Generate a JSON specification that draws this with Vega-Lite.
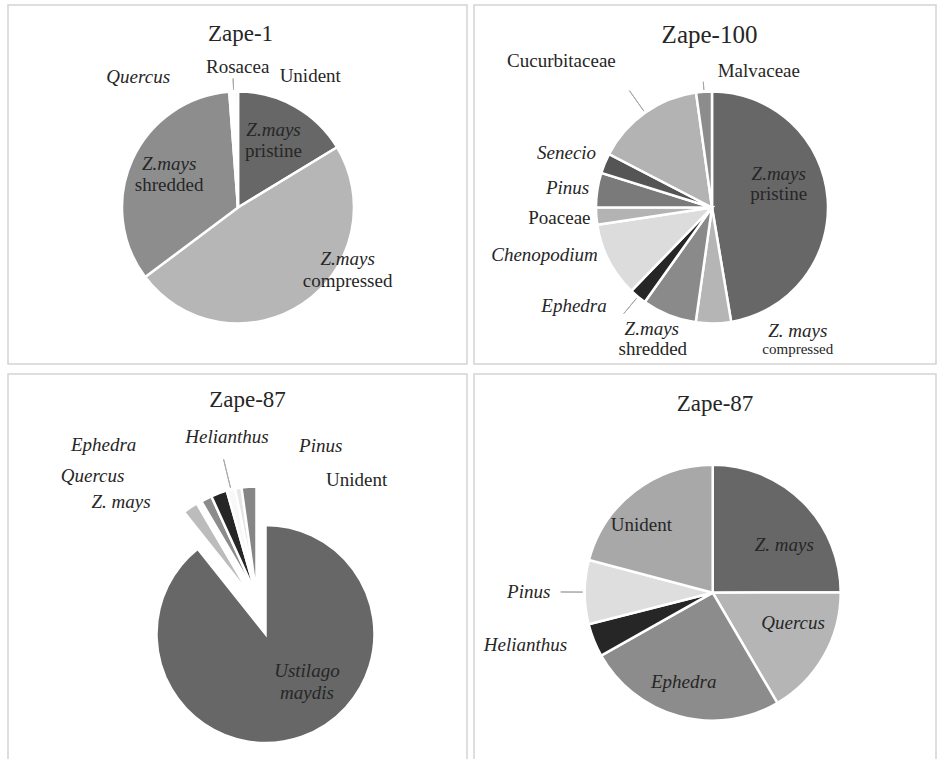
{
"$schema": "https://vega.github.io/schema/vega-lite/v6.json",
"padding": {"left": 7, "top": 4, "right": 0, "bottom": 0},
"background": "white",
"data": {"values": [
{"sample": "Zape-1", "basis": "all types", "order": 1, "taxon": "Z.mays", "state": "pristine", "slice": "Z.mays pristine", "value": 16.3},
{"sample": "Zape-1", "basis": "all types", "order": 2, "taxon": "Z.mays", "state": "compressed", "slice": "Z.mays compressed", "value": 48.4},
{"sample": "Zape-1", "basis": "all types", "order": 3, "taxon": "Z.mays", "state": "shredded", "slice": "Z.mays shredded", "value": 34.0},
{"sample": "Zape-1", "basis": "all types", "order": 4, "taxon": "Quercus", "state": "", "slice": "Quercus", "value": 0.4},
{"sample": "Zape-1", "basis": "all types", "order": 5, "taxon": "Rosacea", "state": "", "slice": "Rosacea", "value": 0.4},
{"sample": "Zape-1", "basis": "all types", "order": 6, "taxon": "Unident", "state": "", "slice": "Unident", "value": 0.4},
{"sample": "Zape-100", "basis": "all types", "order": 1, "taxon": "Z.mays", "state": "pristine", "slice": "Z.mays pristine", "value": 47.4},
{"sample": "Zape-100", "basis": "all types", "order": 2, "taxon": "Z. mays", "state": "compressed", "slice": "Z. mays compressed", "value": 4.9},
{"sample": "Zape-100", "basis": "all types", "order": 3, "taxon": "Z.mays", "state": "shredded", "slice": "Z.mays shredded", "value": 7.6},
{"sample": "Zape-100", "basis": "all types", "order": 4, "taxon": "Ephedra", "state": "", "slice": "Ephedra", "value": 2.4},
{"sample": "Zape-100", "basis": "all types", "order": 5, "taxon": "Chenopodium", "state": "", "slice": "Chenopodium", "value": 10.4},
{"sample": "Zape-100", "basis": "all types", "order": 6, "taxon": "Poaceae", "state": "", "slice": "Poaceae", "value": 2.4},
{"sample": "Zape-100", "basis": "all types", "order": 7, "taxon": "Pinus", "state": "", "slice": "Pinus", "value": 4.8},
{"sample": "Zape-100", "basis": "all types", "order": 8, "taxon": "Senecio", "state": "", "slice": "Senecio", "value": 2.8},
{"sample": "Zape-100", "basis": "all types", "order": 9, "taxon": "Cucurbitaceae", "state": "", "slice": "Cucurbitaceae", "value": 15.2},
{"sample": "Zape-100", "basis": "all types", "order": 10, "taxon": "Malvaceae", "state": "", "slice": "Malvaceae", "value": 2.2},
{"sample": "Zape-87", "basis": "with Ustilago", "order": 1, "taxon": "Ustilago maydis", "state": "", "slice": "Ustilago maydis", "value": 89.4},
{"sample": "Zape-87", "basis": "with Ustilago", "order": 2, "taxon": "Z. mays", "state": "", "slice": "Z. mays", "value": 2.25},
{"sample": "Zape-87", "basis": "with Ustilago", "order": 3, "taxon": "Quercus", "state": "", "slice": "Quercus", "value": 1.65},
{"sample": "Zape-87", "basis": "with Ustilago", "order": 4, "taxon": "Ephedra", "state": "", "slice": "Ephedra", "value": 2.4},
{"sample": "Zape-87", "basis": "with Ustilago", "order": 5, "taxon": "Helianthus", "state": "", "slice": "Helianthus", "value": 1.25},
{"sample": "Zape-87", "basis": "with Ustilago", "order": 6, "taxon": "Pinus", "state": "", "slice": "Pinus", "value": 0.95},
{"sample": "Zape-87", "basis": "with Ustilago", "order": 7, "taxon": "Unident", "state": "", "slice": "Unident", "value": 2.2},
{"sample": "Zape-87", "basis": "pollen only", "order": 1, "taxon": "Z. mays", "state": "", "slice": "Z. mays", "value": 25.0},
{"sample": "Zape-87", "basis": "pollen only", "order": 2, "taxon": "Quercus", "state": "", "slice": "Quercus", "value": 16.6},
{"sample": "Zape-87", "basis": "pollen only", "order": 3, "taxon": "Ephedra", "state": "", "slice": "Ephedra", "value": 25.3},
{"sample": "Zape-87", "basis": "pollen only", "order": 4, "taxon": "Helianthus", "state": "", "slice": "Helianthus", "value": 4.2},
{"sample": "Zape-87", "basis": "pollen only", "order": 5, "taxon": "Pinus", "state": "", "slice": "Pinus", "value": 8.1},
{"sample": "Zape-87", "basis": "pollen only", "order": 6, "taxon": "Unident", "state": "", "slice": "Unident", "value": 20.9}
]},
"spacing": 8,
"resolve": {"scale": {"theta": "independent", "color": "independent"}},
"vconcat": [
{"hconcat": [
{
"width": 459, "height": 359,
"view": {"stroke": "#d4d4d4", "strokeWidth": 1.5},
"title": {"text": "Zape-1", "frame": "group", "anchor": "middle", "orient": "top", "offset": -59, "baseline": "alphabetic", "fontSize": 23, "font": "Liberation Serif", "fontWeight": "normal", "color": "#262626", "dx": 3},
"transform": [{"filter": "datum.sample === 'Zape-1'"}],
"encoding": {
"theta": {"field": "value", "type": "quantitative", "stack": true},
"order": {"field": "order", "type": "quantitative"}
},
"layer": [
{"mark": {"type": "arc", "outerRadius": 116, "xOffset": 0.5, "yOffset": 23},
 "encoding": {"color": {"field": "slice", "type": "nominal", "legend": null, "scale": {"domain": ["Z.mays pristine", "Z.mays compressed", "Z.mays shredded", "Quercus", "Rosacea", "Unident"], "range": ["#676767", "#b6b6b6", "#8d8d8d", "#ededed", "#f7f7f7", "#e4e4e4"]}}}},
{"mark": {"type": "arc", "innerRadius": 118, "outerRadius": 129, "padAngle": 3, "fill": "transparent", "stroke": "#a8a8a8", "strokeWidth": 1, "xOffset": 0.5, "yOffset": 23},
 "encoding": {"opacity": {"condition": {"test": "datum.slice === 'Rosacea'", "value": 1}, "value": 0}}},
{"mark": {"type": "text", "radius": 74.5, "xOffset": 0.5, "yOffset": 23, "dx": -1, "dy": -13, "fontStyle": "italic"},
 "encoding": {"text": {"condition": {"test": "datum.slice === 'Z.mays pristine' || datum.slice === 'Z.mays shredded'", "field": "taxon"}, "value": ""},
  "size": {"condition": {"test": "datum.slice === 'Z.mays pristine' || datum.slice === 'Z.mays shredded'", "value": 19}, "value": 0}}},
{"mark": {"type": "text", "radius": 74.5, "xOffset": 0.5, "yOffset": 23, "dx": -1, "dy": 8.5},
 "encoding": {"text": {"condition": {"test": "datum.slice === 'Z.mays pristine' || datum.slice === 'Z.mays shredded'", "field": "state"}, "value": ""},
  "size": {"condition": {"test": "datum.slice === 'Z.mays pristine' || datum.slice === 'Z.mays shredded'", "value": 19}, "value": 0}}},
{"mark": {"type": "text", "radius": 110, "xOffset": 0.5, "yOffset": 23, "dx": 48, "dy": -40, "fontStyle": "italic"},
 "encoding": {"text": {"condition": {"test": "datum.slice === 'Z.mays compressed'", "field": "taxon"}, "value": ""},
  "size": {"condition": {"test": "datum.slice === 'Z.mays compressed'", "value": 19}, "value": 0}}},
{"mark": {"type": "text", "radius": 110, "xOffset": 0.5, "yOffset": 23, "dx": 48, "dy": -18},
 "encoding": {"text": {"condition": {"test": "datum.slice === 'Z.mays compressed'", "field": "state"}, "value": ""},
  "size": {"condition": {"test": "datum.slice === 'Z.mays compressed'", "value": 19}, "value": 0}}},
{"mark": {"type": "text", "radius": 140, "xOffset": 0.5, "yOffset": 23, "dx": -91, "dy": 9, "fontStyle": "italic"},
 "encoding": {"text": {"condition": {"test": "datum.slice === 'Quercus'", "field": "taxon"}, "value": ""},
  "size": {"condition": {"test": "datum.slice === 'Quercus'", "value": 19}, "value": 0}}},
{"mark": {"type": "text", "radius": 141, "xOffset": 0.5, "yOffset": 23, "dx": 5, "dy": 0},
 "encoding": {"text": {"condition": {"test": "datum.slice === 'Rosacea'", "field": "taxon"}, "value": ""},
  "size": {"condition": {"test": "datum.slice === 'Rosacea'", "value": 19}, "value": 0}}},
{"mark": {"type": "text", "radius": 140, "xOffset": 0.5, "yOffset": 23, "dx": 74, "dy": 8},
 "encoding": {"text": {"condition": {"test": "datum.slice === 'Unident'", "field": "taxon"}, "value": ""},
  "size": {"condition": {"test": "datum.slice === 'Unident'", "value": 19}, "value": 0}}}
]
},
{
"width": 462, "height": 359,
"view": {"stroke": "#d4d4d4", "strokeWidth": 1.5},
"title": {"text": "Zape-100", "frame": "group", "anchor": "middle", "orient": "top", "offset": -62.7, "baseline": "alphabetic", "fontSize": 25, "font": "Liberation Serif", "fontWeight": "normal", "color": "#262626", "dx": 4.5},
"transform": [{"filter": "datum.sample === 'Zape-100'"}],
"encoding": {
"theta": {"field": "value", "type": "quantitative", "stack": true},
"order": {"field": "order", "type": "quantitative"}
},
"layer": [
{"mark": {"type": "arc", "outerRadius": 116, "xOffset": 7, "yOffset": 23},
 "encoding": {"color": {"field": "slice", "type": "nominal", "legend": null, "scale": {"domain": ["Z.mays pristine", "Z. mays compressed", "Z.mays shredded", "Ephedra", "Chenopodium", "Poaceae", "Pinus", "Senecio", "Cucurbitaceae", "Malvaceae"], "range": ["#676767", "#b5b5b5", "#8a8a8a", "#262626", "#dcdcdc", "#b3b3b3", "#7a7a7a", "#555555", "#b3b3b3", "#8c8c8c"]}}}},
{"mark": {"type": "arc", "innerRadius": 118, "outerRadius": 126, "padAngle": 3, "fill": "transparent", "stroke": "#a8a8a8", "strokeWidth": 1, "xOffset": 7, "yOffset": 23},
 "encoding": {"opacity": {"condition": {"test": "datum.slice === 'Malvaceae'", "value": 1}, "value": 0}}},
{"mark": {"type": "arc", "innerRadius": 118, "outerRadius": 143, "padAngle": 3, "fill": "transparent", "stroke": "#a8a8a8", "strokeWidth": 1, "xOffset": 7, "yOffset": 23},
 "encoding": {"opacity": {"condition": {"test": "datum.slice === 'Cucurbitaceae'", "value": 1}, "value": 0}}},
{"mark": {"type": "arc", "innerRadius": 118, "outerRadius": 138, "padAngle": 3, "fill": "transparent", "stroke": "#a8a8a8", "strokeWidth": 1, "xOffset": 7, "yOffset": 23},
 "encoding": {"opacity": {"condition": {"test": "datum.slice === 'Ephedra'", "value": 1}, "value": 0}}},
{"mark": {"type": "text", "radius": 70, "xOffset": 7, "yOffset": 23, "dx": -3, "dy": -28, "fontStyle": "italic"},
 "encoding": {"text": {"condition": {"test": "datum.slice === 'Z.mays pristine'", "field": "taxon"}, "value": ""},
  "size": {"condition": {"test": "datum.slice === 'Z.mays pristine'", "value": 19}, "value": 0}}},
{"mark": {"type": "text", "radius": 70, "xOffset": 7, "yOffset": 23, "dx": -3, "dy": -8},
 "encoding": {"text": {"condition": {"test": "datum.slice === 'Z.mays pristine'", "field": "state"}, "value": ""},
  "size": {"condition": {"test": "datum.slice === 'Z.mays pristine'", "value": 19}, "value": 0}}},
{"mark": {"type": "text", "radius": 140, "xOffset": 7, "yOffset": 23, "dx": 84, "dy": -16, "fontStyle": "italic"},
 "encoding": {"text": {"condition": {"test": "datum.slice === 'Z. mays compressed'", "field": "taxon"}, "value": ""},
  "size": {"condition": {"test": "datum.slice === 'Z. mays compressed'", "value": 19}, "value": 0}}},
{"mark": {"type": "text", "radius": 140, "xOffset": 7, "yOffset": 23, "dx": 84, "dy": 2},
 "encoding": {"text": {"condition": {"test": "datum.slice === 'Z. mays compressed'", "field": "state"}, "value": ""},
  "size": {"condition": {"test": "datum.slice === 'Z. mays compressed'", "value": 15}, "value": 0}}},
{"mark": {"type": "text", "radius": 130, "xOffset": 7, "yOffset": 23, "dx": -12, "dy": 0.5, "fontStyle": "italic"},
 "encoding": {"text": {"condition": {"test": "datum.slice === 'Z.mays shredded'", "field": "taxon"}, "value": ""},
  "size": {"condition": {"test": "datum.slice === 'Z.mays shredded'", "value": 19}, "value": 0}}},
{"mark": {"type": "text", "radius": 130, "xOffset": 7, "yOffset": 23, "dx": -11, "dy": 21},
 "encoding": {"text": {"condition": {"test": "datum.slice === 'Z.mays shredded'", "field": "state"}, "value": ""},
  "size": {"condition": {"test": "datum.slice === 'Z.mays shredded'", "value": 19}, "value": 0}}},
{"mark": {"type": "text", "radius": 140, "xOffset": 7, "yOffset": 23, "dx": -48.5, "dy": -9, "fontStyle": "italic"},
 "encoding": {"text": {"condition": {"test": "datum.slice === 'Ephedra'", "field": "taxon"}, "value": ""},
  "size": {"condition": {"test": "datum.slice === 'Ephedra'", "value": 19}, "value": 0}}},
{"mark": {"type": "text", "radius": 140, "xOffset": 7, "yOffset": 23, "dx": -43, "dy": -17, "fontStyle": "italic"},
 "encoding": {"text": {"condition": {"test": "datum.slice === 'Chenopodium'", "field": "taxon"}, "value": ""},
  "size": {"condition": {"test": "datum.slice === 'Chenopodium'", "value": 19}, "value": 0}}},
{"mark": {"type": "text", "radius": 140, "xOffset": 7, "yOffset": 23, "dx": -13, "dy": 0},
 "encoding": {"text": {"condition": {"test": "datum.slice === 'Poaceae'", "field": "taxon"}, "value": ""},
  "size": {"condition": {"test": "datum.slice === 'Poaceae'", "value": 19}, "value": 0}}},
{"mark": {"type": "text", "radius": 140, "xOffset": 7, "yOffset": 23, "dx": -6, "dy": 1.5, "fontStyle": "italic"},
 "encoding": {"text": {"condition": {"test": "datum.slice === 'Pinus'", "field": "taxon"}, "value": ""},
  "size": {"condition": {"test": "datum.slice === 'Pinus'", "value": 19}, "value": 0}}},
{"mark": {"type": "text", "radius": 140, "xOffset": 7, "yOffset": 23, "dx": -16, "dy": -1, "fontStyle": "italic"},
 "encoding": {"text": {"condition": {"test": "datum.slice === 'Senecio'", "field": "taxon"}, "value": ""},
  "size": {"condition": {"test": "datum.slice === 'Senecio'", "value": 19}, "value": 0}}},
{"mark": {"type": "text", "radius": 150, "xOffset": 7, "yOffset": 23, "dx": -64, "dy": -24},
 "encoding": {"text": {"condition": {"test": "datum.slice === 'Cucurbitaceae'", "field": "taxon"}, "value": ""},
  "size": {"condition": {"test": "datum.slice === 'Cucurbitaceae'", "value": 19}, "value": 0}}},
{"mark": {"type": "text", "radius": 140, "xOffset": 7, "yOffset": 23, "dx": 56.5, "dy": 2.7},
 "encoding": {"text": {"condition": {"test": "datum.slice === 'Malvaceae'", "field": "taxon"}, "value": ""},
  "size": {"condition": {"test": "datum.slice === 'Malvaceae'", "value": 19}, "value": 0}}}
]
}
], "spacing": 5, "resolve": {"scale": {"theta": "independent", "color": "independent"}}},
{"hconcat": [
{
"width": 459, "height": 386,
"view": {"stroke": "#d4d4d4", "strokeWidth": 1.5},
"title": {"text": "Zape-87", "frame": "group", "anchor": "middle", "orient": "top", "offset": -56.3, "baseline": "alphabetic", "fontSize": 23, "font": "Liberation Serif", "fontWeight": "normal", "color": "#262626", "dx": 10},
"transform": [{"filter": "datum.sample === 'Zape-87' && datum.basis === 'with Ustilago'"}],
"encoding": {
"theta": {"field": "value", "type": "quantitative", "stack": true},
"order": {"field": "order", "type": "quantitative"}
},
"layer": [
{"mark": {"type": "arc", "outerRadius": 109, "xOffset": 28, "yOffset": 67},
 "encoding": {"color": {"field": "slice", "type": "nominal", "legend": null, "scale": {"domain": ["Ustilago maydis", "Z. mays", "Quercus", "Ephedra", "Helianthus", "Pinus", "Unident"], "range": ["#676767", "#bcbcbc", "#8c8c8c", "#262626", "#f8f8f8", "#e6e6e6", "#868686"]}},
  "opacity": {"condition": {"test": "datum.slice === 'Ustilago maydis'", "value": 1}, "value": 0}}},
{"mark": {"type": "arc", "outerRadius": 109, "xOffset": 19, "yOffset": 28.5, "strokeWidth": 2.5},
 "encoding": {"color": {"field": "slice", "type": "nominal", "legend": null},
  "opacity": {"condition": {"test": "datum.slice === 'Ustilago maydis' || datum.slice === 'Z. mays'", "value": 0}, "value": 1}}},
{"mark": {"type": "arc", "outerRadius": 109, "xOffset": 14.3, "yOffset": 30.4, "strokeWidth": 2.5},
 "encoding": {"color": {"field": "slice", "type": "nominal", "legend": null},
  "opacity": {"condition": {"test": "datum.slice === 'Z. mays'", "value": 1}, "value": 0}}},
{"mark": {"type": "arc", "innerRadius": 111, "outerRadius": 140, "padAngle": 3, "fill": "transparent", "stroke": "#a8a8a8", "strokeWidth": 1, "xOffset": 19, "yOffset": 28.5},
 "encoding": {"opacity": {"condition": {"test": "datum.slice === 'Helianthus'", "value": 1}, "value": 0}}},
{"mark": {"type": "text", "radius": 65, "xOffset": 28, "yOffset": 67, "dx": 20, "dy": -24, "fontStyle": "italic", "lineBreak": " ", "lineHeight": 21.7},
 "encoding": {"text": {"condition": {"test": "datum.slice === 'Ustilago maydis'", "field": "taxon"}, "value": ""},
  "size": {"condition": {"test": "datum.slice === 'Ustilago maydis'", "value": 19}, "value": 0}}},
{"mark": {"type": "text", "radius": 160, "xOffset": 28, "yOffset": 67, "dx": -54, "dy": 0, "fontStyle": "italic"},
 "encoding": {"text": {"condition": {"test": "datum.slice === 'Z. mays'", "field": "taxon"}, "value": ""},
  "size": {"condition": {"test": "datum.slice === 'Z. mays'", "value": 19}, "value": 0}}},
{"mark": {"type": "text", "radius": 180, "xOffset": 28, "yOffset": 67, "dx": -90, "dy": 1.3, "fontStyle": "italic"},
 "encoding": {"text": {"condition": {"test": "datum.slice === 'Quercus'", "field": "taxon"}, "value": ""},
  "size": {"condition": {"test": "datum.slice === 'Quercus'", "value": 19}, "value": 0}}},
{"mark": {"type": "text", "radius": 195, "xOffset": 28, "yOffset": 67, "dx": -94.7, "dy": -6, "fontStyle": "italic"},
 "encoding": {"text": {"condition": {"test": "datum.slice === 'Ephedra'", "field": "taxon"}, "value": ""},
  "size": {"condition": {"test": "datum.slice === 'Ephedra'", "value": 19}, "value": 0}}},
{"mark": {"type": "text", "radius": 200, "xOffset": 28, "yOffset": 67, "dx": 8.5, "dy": -2.7, "fontStyle": "italic"},
 "encoding": {"text": {"condition": {"test": "datum.slice === 'Helianthus'", "field": "taxon"}, "value": ""},
  "size": {"condition": {"test": "datum.slice === 'Helianthus'", "value": 19}, "value": 0}}},
{"mark": {"type": "text", "radius": 190, "xOffset": 28, "yOffset": 67, "dx": 87, "dy": -0.4, "fontStyle": "italic"},
 "encoding": {"text": {"condition": {"test": "datum.slice === 'Pinus'", "field": "taxon"}, "value": ""},
  "size": {"condition": {"test": "datum.slice === 'Pinus'", "value": 19}, "value": 0}}},
{"mark": {"type": "text", "radius": 155, "xOffset": 28, "yOffset": 67, "dx": 101.8, "dy": 0.8},
 "encoding": {"text": {"condition": {"test": "datum.slice === 'Unident'", "field": "taxon"}, "value": ""},
  "size": {"condition": {"test": "datum.slice === 'Unident'", "value": 19}, "value": 0}}}
]
},
{
"width": 462, "height": 386,
"view": {"stroke": "#d4d4d4", "strokeWidth": 1.5},
"title": {"text": "Zape-87", "frame": "group", "anchor": "middle", "orient": "top", "offset": -59.7, "baseline": "alphabetic", "fontSize": 23, "font": "Liberation Serif", "fontWeight": "normal", "color": "#262626", "dx": 10},
"transform": [{"filter": "datum.sample === 'Zape-87' && datum.basis === 'pollen only'"}],
"encoding": {
"theta": {"field": "value", "type": "quantitative", "stack": true},
"order": {"field": "order", "type": "quantitative"}
},
"layer": [
{"mark": {"type": "arc", "outerRadius": 128, "xOffset": 7.7, "yOffset": 25.7},
 "encoding": {"color": {"field": "slice", "type": "nominal", "legend": null, "scale": {"domain": ["Z. mays", "Quercus", "Ephedra", "Helianthus", "Pinus", "Unident"], "range": ["#676767", "#b5b5b5", "#8c8c8c", "#262626", "#dedede", "#a8a8a8"]}}}},
{"mark": {"type": "arc", "innerRadius": 130, "outerRadius": 152, "padAngle": 3, "fill": "transparent", "stroke": "#a8a8a8", "strokeWidth": 1, "xOffset": 7.7, "yOffset": 25.7},
 "encoding": {"opacity": {"condition": {"test": "datum.slice === 'Pinus'", "value": 1}, "value": 0}}},
{"mark": {"type": "text", "radius": 85, "xOffset": 7.7, "yOffset": 25.7, "dx": 11.5, "dy": 12.4, "fontStyle": "italic"},
 "encoding": {"text": {"condition": {"test": "datum.slice === 'Z. mays'", "field": "taxon"}, "value": ""},
  "size": {"condition": {"test": "datum.slice === 'Z. mays'", "value": 19}, "value": 0}}},
{"mark": {"type": "text", "radius": 88, "xOffset": 7.7, "yOffset": 25.7, "dx": 4, "dy": -13.6, "fontStyle": "italic"},
 "encoding": {"text": {"condition": {"test": "datum.slice === 'Quercus'", "field": "taxon"}, "value": ""},
  "size": {"condition": {"test": "datum.slice === 'Quercus'", "value": 19}, "value": 0}}},
{"mark": {"type": "text", "radius": 92, "xOffset": 7.7, "yOffset": 25.7, "dx": -5, "dy": 0, "fontStyle": "italic"},
 "encoding": {"text": {"condition": {"test": "datum.slice === 'Ephedra'", "field": "taxon"}, "value": ""},
  "size": {"condition": {"test": "datum.slice === 'Ephedra'", "value": 19}, "value": 0}}},
{"mark": {"type": "text", "radius": 150, "xOffset": 7.7, "yOffset": 25.7, "dx": -48, "dy": -4, "fontStyle": "italic"},
 "encoding": {"text": {"condition": {"test": "datum.slice === 'Helianthus'", "field": "taxon"}, "value": ""},
  "size": {"condition": {"test": "datum.slice === 'Helianthus'", "value": 19}, "value": 0}}},
{"mark": {"type": "text", "radius": 150, "xOffset": 7.7, "yOffset": 25.7, "dx": -34, "dy": 0, "fontStyle": "italic"},
 "encoding": {"text": {"condition": {"test": "datum.slice === 'Pinus'", "field": "taxon"}, "value": ""},
  "size": {"condition": {"test": "datum.slice === 'Pinus'", "value": 19}, "value": 0}}},
{"mark": {"type": "text", "radius": 98, "xOffset": 7.7, "yOffset": 25.7, "dx": -11.6, "dy": 10},
 "encoding": {"text": {"condition": {"test": "datum.slice === 'Unident'", "field": "taxon"}, "value": ""},
  "size": {"condition": {"test": "datum.slice === 'Unident'", "value": 19}, "value": 0}}}
]
}
], "spacing": 5, "resolve": {"scale": {"theta": "independent", "color": "independent"}}}
],
"config": {
"view": {"stroke": "#d4d4d4", "strokeWidth": 1.5},
"arc": {"stroke": "white", "strokeWidth": 2.5},
"text": {"font": "Liberation Serif", "fontSize": 19, "color": "#262626", "baseline": "middle", "align": "center"},
"legend": {"disable": true}
}
}
